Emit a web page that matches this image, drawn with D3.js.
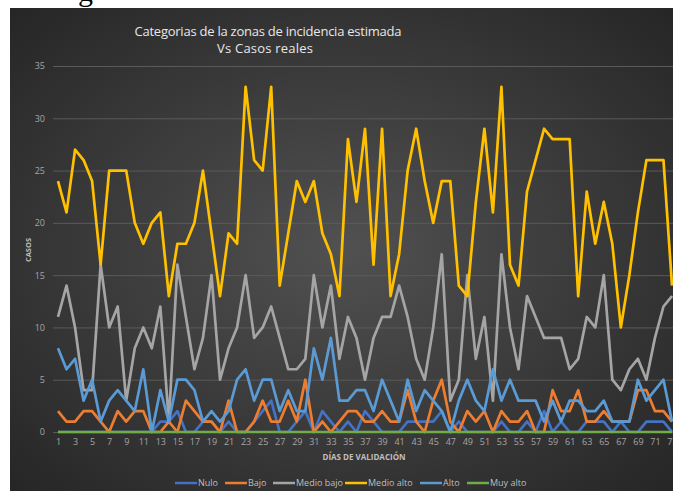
<!DOCTYPE html>
<html>
<head>
<meta charset="utf-8">
<title>Categorias de la zonas de incidencia estimada</title>
<script src="https://d3js.org/d3.v7.min.js"></script>
<style>
body{margin:0;background:#fff;}
.chart text{font-family:"Open Sans","Noto Sans",sans-serif;}
</style>
</head>
<body>
<svg class="chart"></svg>
<script>
var width=673,height=491;

// categorias del eje x (dias de validacion)
var dias=d3.range(1,74);
var series=["Nulo","Bajo","Medio bajo","Medio alto","Alto","Muy alto"];
var colores=["#4472C4","#ED7D31","#A5A5A5","#FFC000","#5B9BD5","#70AD47"];

var nulo=[0,0,0,0,0,0,0,0,0,0, 0,0,1,1,2,0,0,1,1,0, 1,0,0,1,2,3,0,0,1,2,
	0,2,1,0,1,0,2,1,0,0, 0,1,1,1,1,2,0,1,0,0, 0,0,1,0,0,1,0,2,0,1,
	0,0,1,1,1,0,1,0,0,1, 1,1,0];
var bajo=[2,1,1,2,2,1,0,2,1,2, 2,0,0,1,0,3,2,1,1,0, 3,0,0,1,3,1,1,3,1,5,
	0,1,0,1,2,2,1,1,2,1, 1,4,1,0,3,5,1,0,2,1, 2,0,2,1,1,2,0,0,4,2,
	2,4,1,1,2,1,1,1,4,4, 2,2,1];
var medioBajo=[11,14,10,4,4,16,10,12,3,8, 10,8,12,1,16,11,6,9,15,5, 8,10,15,9,10,12,9,6,6,7,
	15,10,14,7,11,9,5,9,11,11, 14,11,7,5,10,17,3,5,15,7, 11,3,17,10,6,13,11,9,9,9,
	6,7,11,10,15,5,4,6,7,5, 9,12,13];
var medioAlto=[24,21,27,26,24,16,25,25,25,20, 18,20,21,13,18,18,20,25,19,13, 19,18,33,26,25,33,14,19,24,22,
	24,19,17,13,28,22,29,16,29,13, 17,25,29,24,20,24,24,14,13,22, 29,21,33,16,14,23,26,29,28,28,
	28,13,23,18,22,18,10,15,21,26, 26,26,14];
var alto=[8,6,7,3,5,1,3,4,3,2, 6,0,4,1,5,5,4,1,2,1, 2,5,6,3,5,5,2,4,2,2,
	8,5,9,3,3,4,4,2,5,3, 1,5,2,4,3,2,0,3,5,3, 2,6,3,5,3,3,3,1,3,1,
	3,3,2,2,3,1,1,1,5,3, 4,5,1];
var muyAlto=[0,0,0,0,0,0,0,0,0,0, 0,0,0,0,0,0,0,0,0,0, 0,0,0,0,0,0,0,0,0,0,
	0,0,0,0,0,0,0,0,0,0, 0,0,0,0,0,0,0,0,0,0, 0,0,0,0,0,0,0,0,0,0,
	0,0,0,0,0,0,0,0,0,0, 0,0,0];
var yTicks=[0,5,10,15,20,25,30,35];

var valores=[nulo,bajo,medioBajo,medioAlto,alto,muyAlto];

var chart=d3.select(".chart").attr("width",width).attr("height",height);

var defs=chart.append("defs");
var grad=defs.append("radialGradient").attr("id","fondo")
	.attr("cx","50%").attr("cy","50%").attr("r","70%");
grad.append("stop").attr("offset","0%").attr("stop-color","#515151");
grad.append("stop").attr("offset","100%").attr("stop-color","#262626");

// trozo de texto de la pagina que queda encima del grafico
chart.append("text").attr("x",78).attr("y",1).attr("font-size",30)
	.attr("fill","#000").style("font-family","Liberation Serif, serif").text("g");

chart.append("rect").attr("x",10).attr("y",8)
	.attr("width",width-10).attr("height",height-8)
	.attr("fill","url(#fondo)");

var x=d3.scaleLinear().domain([1,73]).range([58,672]);
var y=d3.scaleLinear().domain([0,35]).range([432,66]);

// lineas de division
var yAxis=chart.append("g").attr("transform","translate(53,0)")
	.call(d3.axisLeft(y).tickValues(yTicks).tickSize(-(width-53)).tickPadding(8));
yAxis.select(".domain").remove();
yAxis.selectAll("line").attr("stroke","#5a5a5a").attr("stroke-width",1);
yAxis.selectAll("text").attr("fill","#a6a6a6").attr("font-size",9)
	.style("font-family","Open Sans, sans-serif");

var xAxis=chart.append("g").attr("transform","translate(0,432)")
	.call(d3.axisBottom(x).tickValues(dias.filter(function(d){return d%2==1;}))
		.tickSize(0).tickPadding(7).tickFormat(d3.format("d")));
xAxis.select(".domain").remove();
xAxis.selectAll("text").attr("fill","#a6a6a6").attr("font-size",9)
	.style("font-family","Open Sans, sans-serif");

var linea=d3.line()
	.x(function(d,i){return x(dias[i]);})
	.y(function(d){return y(d);});

chart.selectAll("path.serie").data(valores).enter()
	.append("path")
	.attr("class","serie")
	.attr("d",linea)
	.attr("fill","none")
	.attr("stroke",function(d,i){return colores[i];})
	.attr("stroke-width",2.7)
	.attr("stroke-linejoin","round");

// titulos
chart.append("text").attr("x",268).attr("y",36).attr("text-anchor","middle")
	.attr("font-size",13).attr("fill","#e8e8e8")
	.attr("textLength",267).attr("lengthAdjust","spacing")
	.text("Categorias de la zonas de incidencia estimada");
chart.append("text").attr("x",265).attr("y",53).attr("text-anchor","middle")
	.attr("font-size",13).attr("fill","#e8e8e8")
	.attr("textLength",96).attr("lengthAdjust","spacing")
	.text("Vs Casos reales");

chart.append("text").attr("transform","translate(31,250) rotate(-90)")
	.attr("text-anchor","middle").attr("font-size",7.5).attr("font-weight","bold")
	.attr("fill","#bfbfbf").text("CASOS");

chart.append("text").attr("x",364).attr("y",460).attr("text-anchor","middle")
	.attr("font-size",8).attr("font-weight","bold")
	.attr("fill","#bfbfbf").text("DÍAS DE VALIDACIÓN");

// leyenda
var legX=[175,225,273,345,420,467];
var leyenda=chart.selectAll("g.leyenda").data(series).enter()
	.append("g").attr("class","leyenda")
	.attr("transform",function(d,i){return "translate("+legX[i]+",483)";});
leyenda.append("line").attr("x1",0).attr("x2",22).attr("y1",0).attr("y2",0)
	.attr("stroke",function(d,i){return colores[i];}).attr("stroke-width",2.5);
leyenda.append("text").attr("x",23).attr("y",3).attr("font-size",9)
	.attr("fill","#bfbfbf").text(function(d){return d;});
</script>
</body>
</html>
